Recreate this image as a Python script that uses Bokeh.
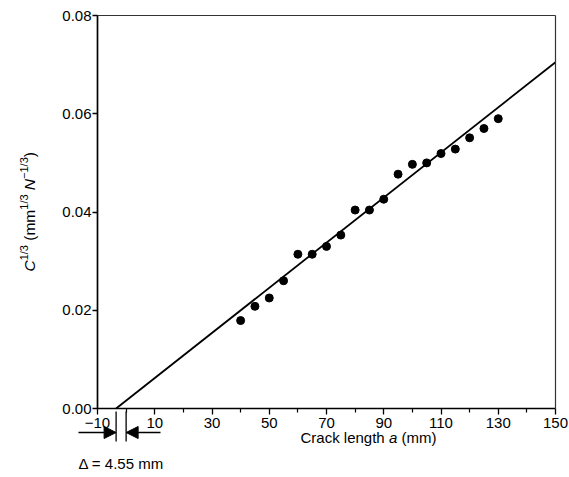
import math
from bokeh.plotting import figure
from bokeh.models import (Range1d, FixedTicker, PrintfTickFormatter, LinearAxis, Arrow, NormalHead)
from bokeh.core.properties import value
from bokeh.embed import file_html
from bokeh.resources import INLINE

# ---- data ----
crack_length = [40, 45, 50, 55, 60, 65, 70, 75, 80, 85, 90, 95, 100, 105, 110, 115, 120, 125, 130]
c_third = [0.0179, 0.0208, 0.0225, 0.0260, 0.0314, 0.0314, 0.0330, 0.0353, 0.0404, 0.0404, 0.0426,
           0.0477, 0.0497, 0.0500, 0.0519, 0.0528, 0.0551, 0.0570, 0.0590]
fit_x = [-3.5, 150]
fit_y = [0.0, 0.0705]
x_ticks = [-10, 10, 30, 50, 70, 90, 110, 130, 150]
x_minor = [0, 20, 40, 60, 80, 100, 120, 140]
y_ticks = [0.0, 0.02, 0.04, 0.06, 0.08]
x_lim = (-10, 150)
y_lim = (0.0, 0.08)

FONT = "Liberation Sans"
FS = 15
W, H = 569, 477
BL, BR, BT, BB = 97, 555, 15, 408
ppx = (BR - BL) / (x_lim[1] - x_lim[0])
ppy = (BB - BT) / (y_lim[1] - y_lim[0])
xmin = x_lim[0] - BL / ppx
xmax = x_lim[1] + (W - BR) / ppx
ymin = y_lim[0] - (H - BB) / ppy
ymax = y_lim[1] + BT / ppy
def dx(px):
    return xmin + px / ppx
def dy(py):
    return ymax - py / ppy

p = figure(width=W, height=H, min_border=0, min_border_left=0, min_border_right=0,
           min_border_top=0, min_border_bottom=0, output_backend="svg", toolbar_location=None,
           x_range=Range1d(xmin, xmax), y_range=Range1d(ymin, ymax))
p.grid.grid_line_color = None
p.outline_line_color = None
p.background_fill_color = "white"
p.border_fill_color = "white"

xax = p.below[0]
yax = p.left[0]
xax.ticker = FixedTicker(ticks=x_ticks, minor_ticks=x_minor)
xax.major_label_overrides = {-10: "\u221210"}
xax.fixed_location = y_lim[0]
xax.bounds = x_lim
yax.ticker = FixedTicker(ticks=y_ticks)
yax.formatter = PrintfTickFormatter(format="%.2f")
yax.fixed_location = x_lim[0]
yax.bounds = y_lim
for ax in (xax, yax):
    ax.axis_line_width = 1.7
    ax.axis_line_color = "black"
    ax.major_tick_line_color = "black"
    ax.major_tick_line_width = 1.3
    ax.major_tick_in = 0
    ax.major_tick_out = 6
    ax.minor_tick_in = 0
    ax.minor_tick_out = 4
    ax.minor_tick_line_color = "black"
    ax.minor_tick_line_width = 1.2
    ax.major_label_text_font = FONT
    ax.major_label_text_font_size = f"{FS}px"
    ax.major_label_text_color = "black"
    ax.major_label_standoff = 3
yax.minor_tick_line_color = None
yax.major_tick_out = 5
yax.major_label_standoff = 1

top = LinearAxis(ticker=FixedTicker(ticks=[]), fixed_location=y_lim[1], bounds=x_lim,
                 axis_line_color="#333333", axis_line_width=1.2, major_label_text_font_size="0px")
right = LinearAxis(ticker=FixedTicker(ticks=[]), fixed_location=x_lim[1], bounds=y_lim,
                   axis_line_color="#333333", axis_line_width=1.2, major_label_text_font_size="0px")
p.add_layout(top, "above")
p.add_layout(right, "right")

p.line(fit_x, fit_y, line_color="black", line_width=1.8)
p.scatter(crack_length, c_third, size=8, color="black")

def put(px, py, txt, fs, style="normal", angle=0.0):
    p.text(x=[dx(px)], y=[dy(py)], text=[txt], text_font=value(FONT), text_font_size=value(f"{fs}px"),
           text_font_style=value(style), text_baseline="middle", text_align="left", angle=angle,
           text_color="black")

# x-axis label: "Crack length a (mm)"
put(300, 437, "Crack length", FS)
put(388.4, 437, "a", FS, "italic")
put(401.0, 437, "(mm)", FS)

# y-axis label (rotated): "C^1/3 (mm^1/3 N^-1/3)"
M, S = 15.5, 11
sp = 0.278 * M
pieces = [("C", "italic", M, 0, 0.722 * M), ("1/3", "normal", S, -6, 1.39 * S + sp),
          ("(mm", "normal", M, 0, 1.999 * M), ("1/3", "normal", S, -6, 1.39 * S + sp),
          ("N", "italic", M, 0, 0.722 * M), ("\u22121/3", "normal", S, -6, 1.974 * S),
          (")", "normal", M, 0, 0.333 * M)]
y0 = 271
for txt, st, fs, off, w in pieces:
    put(29 + off, y0, txt, fs, st, math.pi / 2)
    y0 -= w

# delta annotation
p.segment(x0=[fit_x[0], 0], y0=[dy(411), dy(411)], x1=[fit_x[0], 0], y1=[dy(441), dy(441)],
          line_color="black", line_width=1.3)
p.add_layout(Arrow(end=NormalHead(size=12, fill_color="black", line_color="black"),
                   x_start=dx(78), y_start=dy(432), x_end=fit_x[0], y_end=dy(432),
                   line_color="black", line_width=1.3))
p.add_layout(Arrow(end=NormalHead(size=12, fill_color="black", line_color="black"),
                   x_start=dx(160), y_start=dy(432), x_end=0, y_end=dy(432),
                   line_color="black", line_width=1.3))
put(78, 463, "\u0394 = 4.55 mm", FS)

open("out.html", "w").write(file_html(p, INLINE))
